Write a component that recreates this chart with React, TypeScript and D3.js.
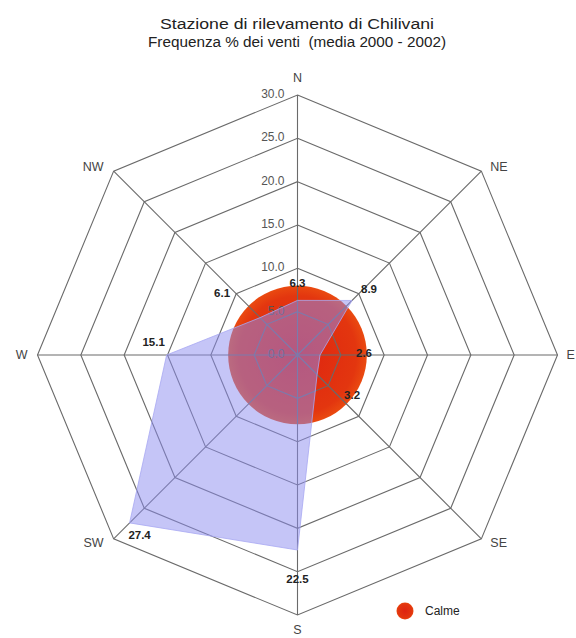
import * as d3 from "d3";

// direzioni e frequenze (%)
const directions = ["N", "NE", "E", "SE", "S", "SW", "W", "NW"];
const frequencies = [6.3, 8.9, 2.6, 3.2, 22.5, 27.4, 15.1, 6.1];
const calm = 8.0;
const ticks = [0, 5, 10, 15, 20, 25, 30];
const titleLines = [
  "Stazione di rilevamento di Chilivani",
  "Frequenza % dei venti  (media 2000 - 2002)",
];

const W = 576;
const H = 638;
const cx = 297.5;
const cy = 355;
const font = "'Liberation Sans', Arial, sans-serif";

// spostamento in px delle etichette dei valori rispetto al punto
const valueNudge: [number, number][] = [
  [0, -17], [17, -11], [44, -2], [35, 20],
  [0, 29], [10, 12], [-13, -13], [-38, -25],
];

export default function App() {
  const r = d3.scaleLinear().domain([0, 30]).range([0, 260]);
  const angle = (i: number) => (i * Math.PI) / 4;
  const pt = (i: number, v: number): [number, number] => [
    cx + r(v) * Math.sin(angle(i)),
    cy - r(v) * Math.cos(angle(i)),
  ];

  const ring = (v: number) =>
    d3.line()(directions.map((_, i) => pt(i, v))) + "Z";

  const area = d3.line()(frequencies.map((v, i) => pt(i, v))) + "Z";

  const rMax = ticks[ticks.length - 1];

  return (
    <svg
      width={W}
      height={H}
      style={{ position: "absolute", left: 0, top: 0, background: "#fff" }}
    >
      <defs>
        <radialGradient id="calmGrad" cx="50%" cy="50%" r="50%">
          <stop offset="0%" stopColor="#de2410" />
          <stop offset="85%" stopColor="#e3360f" />
          <stop offset="100%" stopColor="#ea4a10" />
        </radialGradient>
      </defs>

      {titleLines.map((t, i) => (
        <text
          key={t}
          x={297}
          y={29 + i * 18}
          textAnchor="middle"
          fontFamily={font}
          fontSize={14}
          fill="#222"
          textLength={i === 0 ? 274 : 298}
          lengthAdjust="spacingAndGlyphs"
          style={{ whiteSpace: "pre" }}
        >
          {t}
        </text>
      ))}

      {/* calme */}
      <circle cx={cx} cy={cy} r={r(calm)} fill="url(#calmGrad)" />

      {/* griglia */}
      {ticks.slice(1).map((t) => (
        <path key={t} d={ring(t)} fill="none" stroke="#6a6a6a" strokeWidth={1.1} />
      ))}
      {directions.map((d, i) => {
        const [x, y] = pt(i, rMax);
        return (
          <line key={d} x1={cx} y1={cy} x2={x} y2={y} stroke="#6a6a6a" strokeWidth={1.1} />
        );
      })}

      {ticks.map((t) => (
        <text
          key={t}
          x={cx - 13}
          y={cy - r(t) + 3}
          textAnchor="end"
          fontFamily={font}
          fontSize={12}
          fill="#555"
        >
          {t.toFixed(1)}
        </text>
      ))}

      {/* frequenze */}
      <path d={area} fill="#8c8cf0" fillOpacity={0.5} stroke="#a8a8f2" strokeWidth={0.8} />

      {frequencies.map((v, i) => {
        const [x, y] = pt(i, v);
        const [dx, dy] = valueNudge[i];
        return (
          <text
            key={i}
            x={x + dx}
            y={y + dy + 4}
            textAnchor="middle"
            fontFamily={font}
            fontSize={11.5}
            fontWeight="bold"
            fill="#222"
          >
            {v.toFixed(1)}
          </text>
        );
      })}

      {directions.map((d, i) => {
        const [x, y] = pt(i, rMax);
        const s = Math.sin(angle(i));
        const c = Math.cos(angle(i));
        let anchor: "start" | "middle" | "end" = "middle";
        let tx = x;
        let ty = y + 4;
        if (Math.abs(s) < 0.01) {
          ty = c > 0 ? y - 13 : y + 19;
        } else {
          anchor = s > 0 ? "start" : "end";
          tx = x + (s > 0 ? 9 : -10);
          ty = y + 4 + (Math.abs(c) < 0.01 ? 0 : c > 0 ? -4 : 4);
        }
        return (
          <text
            key={d}
            x={tx}
            y={ty}
            textAnchor={anchor}
            fontFamily={font}
            fontSize={12.5}
            fill="#444"
          >
            {d}
          </text>
        );
      })}

      {/* legenda */}
      <circle cx={405} cy={611} r={8.5} fill="url(#calmGrad)" />
      <text x={425} y={615} fontFamily={font} fontSize={12} fill="#222">
        Calme
      </text>
    </svg>
  );
}
